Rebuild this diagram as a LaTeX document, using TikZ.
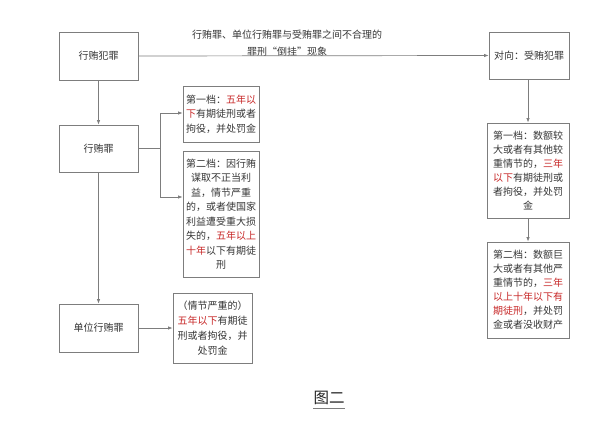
\documentclass[tikz,border=0pt]{standalone}
\usepackage{fontspec}
\setmainfont{Noto Sans CJK SC}
\usepackage{xcolor}
\definecolor{txtgray}{RGB}{55,55,55}
\definecolor{linegray}{RGB}{125,125,125}
\definecolor{penred}{RGB}{200,40,40}
\usetikzlibrary{arrows.meta,positioning,calc}
\newcommand{\hl}[1]{\textcolor{penred}{#1}}

\begin{document}
\begin{tikzpicture}[x=1pt, y=-1pt,
  crime/.style={draw=linegray, line width=0.9pt, minimum width=79pt, minimum height=48pt, align=center, inner sep=0pt, text=txtgray, font=\fontsize{10}{14}\selectfont},
  pen/.style={draw=linegray, line width=0.9pt, align=center, inner sep=0pt, text=txtgray, font=\fontsize{10}{14.5}\selectfont},
  arr/.style={draw=linegray, line width=0.7pt, -{Latex[length=4.5pt,width=3.5pt]}},
  link/.style={draw=linegray, line width=0.7pt}
]
  \fill[white] (0,0) rectangle (609,422);
  \useasboundingbox (0,0) rectangle (609,422);

  %% Crimes
  \node[crime] (crime) at (98.5,56) {行贿犯罪};
  \node[crime, minimum height=47pt] (bribe) at (98.5,148.5) {行贿罪};
  \node[crime] (unit) at (98.5,328) {单位行贿罪};
  \node[crime, minimum width=80pt, minimum height=47pt] (recv) at (529,55.5) {对向：受贿犯罪};

  %% Gap text
  \node[font=\fontsize{10}{16.5}\selectfont, text=txtgray, align=center] (gap) at (287,43)
    {行贿罪、单位行贿罪与受贿罪之间不合理的\\罪刑“倒挂”现象};

  %% Penalties: bribery
  \node[pen, minimum width=76pt, minimum height=56pt] (lv1) at (221,114)
    {第一档：\hl{五年以}\\\hl{下}有期徒刑或者\\拘役，并处罚金};
  \node[pen, minimum width=76pt, minimum height=126pt] (lv2) at (221,214)
    {第二档：因行贿\\谋取不正当利\\益，情节严重\\的，或者使国家\\利益遭受重大损\\失的，\hl{五年以上}\\\hl{十年}以下有期徒\\刑};

  %% Penalty: unit bribery
  \node[pen, minimum width=79pt, minimum height=70pt, font=\fontsize{10}{15}\selectfont] (unitpen) at (212.5,328)
    {（情节严重的）\\\hl{五年以下}有期徒\\刑或者拘役，并\\处罚金};

  %% Penalties: accepting bribes
  \node[pen, minimum width=82pt, minimum height=95pt, font=\fontsize{10}{14}\selectfont] (rlv1) at (528,170.5)
    {第一档：数额较\\大或者有其他较\\重情节的，\hl{三年}\\\hl{以下}有期徒刑或\\者拘役，并处罚\\金};
  \node[pen, minimum width=82pt, minimum height=96pt, font=\fontsize{10}{14}\selectfont] (rlv2) at (528,290)
    {第二档：数额巨\\大或者有其他严\\重情节的，\hl{三年}\\\hl{以上十年以下有}\\\hl{期徒刑}，并处罚\\金或者没收财产};

  %% Connectors
  \coordinate (fork) at (160,148.5);
  \coordinate (f1) at (160,113);
  \coordinate (f2) at (160,197);
  \draw[arr] (crime.east) -- (recv.west);
  \draw[arr] (crime.south) -- (bribe.north);
  \draw[arr] (bribe.south) -- (unit.north);
  \draw[link] (bribe.east) -- (fork);
  \draw[arr] (fork) -- (f1) -- (lv1.west |- f1);
  \draw[arr] (fork) -- (f2) -- (lv2.west |- f2);
  \draw[arr] (unit.east) -- (unitpen.west);
  \draw[arr] (recv.south -| rlv1.north) -- (rlv1.north);
  \draw[arr] (rlv1.south) -- (rlv2.north);

  %% Caption
  \node[font=\fontsize{15.5}{15.5}\selectfont, text=black!85, inner sep=0pt] (fig) at (329,398) {图二};
  \draw[linegray, line width=0.8pt] ($(fig.south west)+(0,3)$) -- ($(fig.south east)+(0,3)$);
\end{tikzpicture}
\end{document}
